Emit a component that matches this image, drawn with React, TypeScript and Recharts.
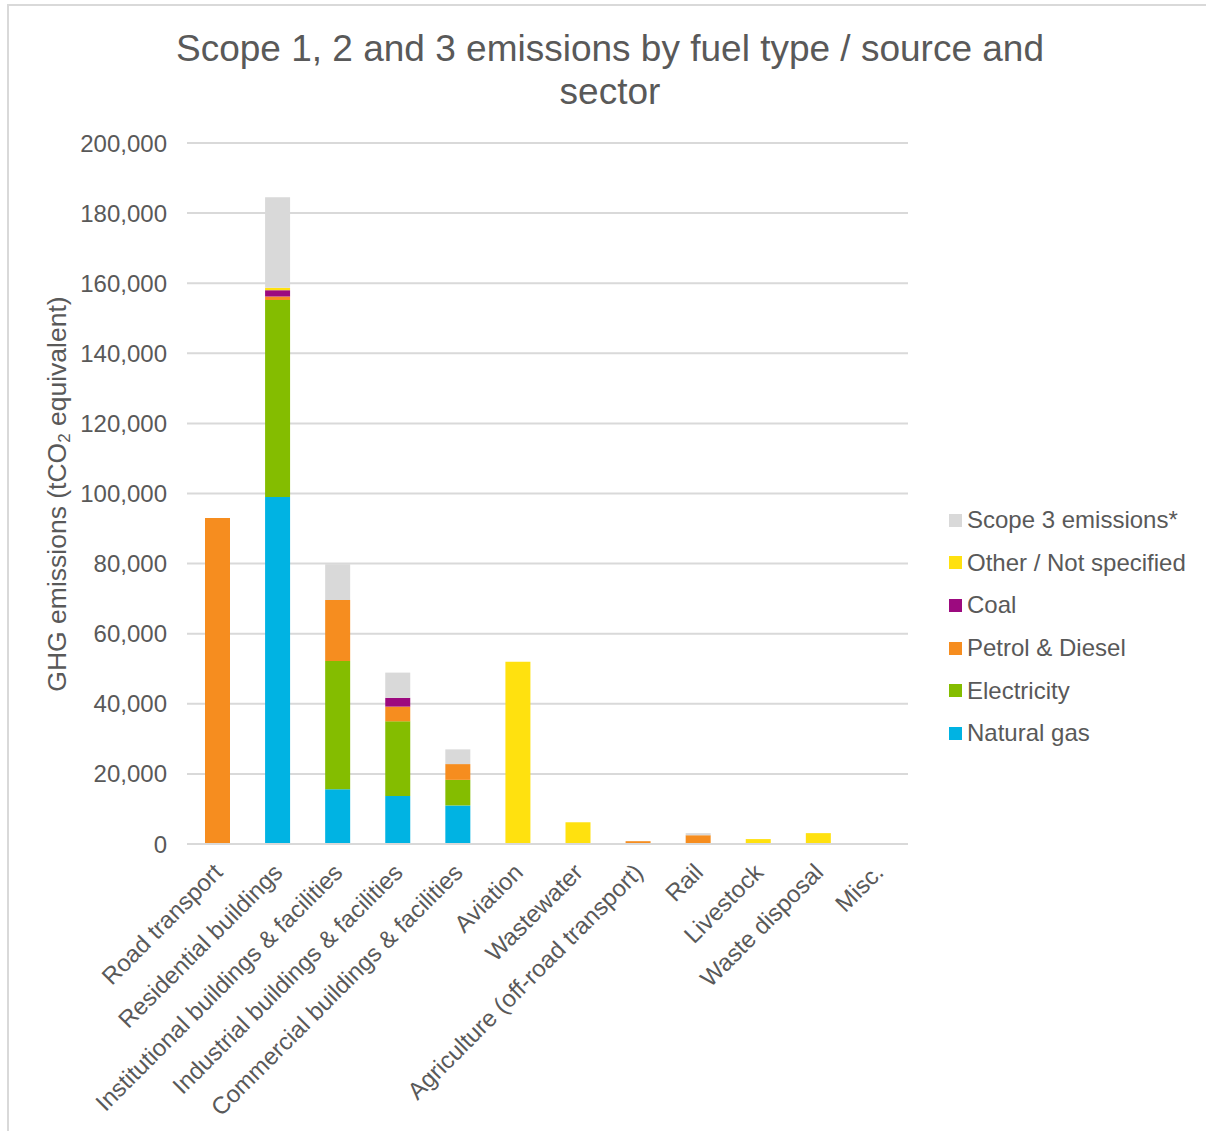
import { BarChart, Bar, XAxis, YAxis, CartesianGrid } from 'recharts'

const sectors = [
    'Road transport',
    'Residential buildings',
    'Institutional buildings & facilities',
    'Industrial buildings & facilities',
    'Commercial buildings & facilities',
    'Aviation',
    'Wastewater',
    'Agriculture (off-road transport)',
    'Rail',
    'Livestock',
    'Waste disposal',
    'Misc.',
]

const naturalGas = [0, 99000, 15600, 13700, 11000, 0, 0, 0, 0, 0, 0, 0]
const electricity = [0, 56200, 36600, 21300, 7300, 0, 0, 0, 0, 0, 0, 0]
const petrolDiesel = [93000, 1000, 17400, 4200, 4500, 0, 0, 800, 2500, 0, 0, 0]
const coal = [0, 1800, 0, 2500, 0, 0, 0, 0, 0, 0, 0, 0]
const otherFuel = [0, 700, 0, 0, 0, 52000, 6200, 0, 0, 1400, 3100, 0]
const scope3 = [0, 25800, 10200, 7200, 4200, 0, 0, 0, 600, 0, 0, 200]

const yTicks = [0, 20000, 40000, 60000, 80000, 100000, 120000, 140000, 160000, 180000, 200000]

const series = [
    { key: 'gas', name: 'Natural gas', color: '#00b3e3' },
    { key: 'elec', name: 'Electricity', color: '#84bd00' },
    { key: 'petrol', name: 'Petrol & Diesel', color: '#f68d1f' },
    { key: 'coal', name: 'Coal', color: '#9c0a7f' },
    { key: 'other', name: 'Other / Not specified', color: '#ffe10f' },
    { key: 'scope3', name: 'Scope 3 emissions*', color: '#d9d9d9' },
]

const data = sectors.map((s, i) => ({
    sector: s,
    gas: naturalGas[i],
    elec: electricity[i],
    petrol: petrolDiesel[i],
    coal: coal[i],
    other: otherFuel[i],
    scope3: scope3[i],
}))

const FONT = '"Liberation Sans", Arial, sans-serif'
const TEXT = '#595959'

function SectorTick(props: any) {
    const { x, y, payload } = props
    return (
        <text
            transform={`translate(${x - 5}, ${y + 10}) rotate(-45)`}
            textAnchor="end"
            fontSize={24}
            fill={TEXT}
            fontFamily={FONT}
            dy="0.7em"
        >
            {payload.value}
        </text>
    )
}

function App() {
    return (
        <div style={{ position: 'absolute', left: 0, top: 0, width: 1206, height: 1131, background: '#fff', fontFamily: FONT, overflow: 'hidden' }}>
            <div
                style={{
                    position: 'absolute',
                    left: 7,
                    top: 4,
                    width: 1230,
                    height: 1160,
                    borderLeft: '2px solid #d9d9d9',
                    borderTop: '2px solid #d9d9d9',
                }}
            />
            <div
                style={{
                    position: 'absolute',
                    left: 0,
                    width: 1220,
                    top: 27,
                    textAlign: 'center',
                    fontSize: 37,
                    lineHeight: '43px',
                    color: TEXT,
                }}
            >
                Scope 1, 2 and 3 emissions by fuel type / source and
                <br />
                sector
            </div>
            <BarChart
                width={1206}
                height={1131}
                data={data}
                margin={{ top: 143, right: 298, bottom: 0, left: 87 }}
                barSize={25}
                style={{ position: 'absolute', left: 0, top: 0 }}
            >
                <CartesianGrid vertical={false} stroke="#d9d9d9" strokeWidth={2} />
                <XAxis
                    dataKey="sector"
                    interval={0}
                    height={287}
                    tickLine={false}
                    axisLine={{ stroke: '#d9d9d9', strokeWidth: 2 }}
                    tick={<SectorTick />}
                />
                <YAxis
                    width={100}
                    domain={[0, 200000]}
                    ticks={yTicks}
                    tickFormatter={(v: number) => v.toLocaleString('en-US')}
                    axisLine={false}
                    tickLine={false}
                    tickSize={0}
                    tickMargin={20}
                    tick={{ fontSize: 24, fill: TEXT, fontFamily: FONT }}
                />
                {series.map((s) => (
                    <Bar
                        key={s.key}
                        dataKey={s.key}
                        name={s.name}
                        stackId="a"
                        fill={s.color}
                        isAnimationActive={false}
                    />
                ))}
                <text
                    transform="translate(66, 494) rotate(-90)"
                    textAnchor="middle"
                    fontSize={26.5}
                    fill={TEXT}
                    fontFamily={FONT}
                >
                    GHG emissions (tCO
                    <tspan fontSize={17} dy={4}>2</tspan>
                    <tspan dy={-4}> equivalent)</tspan>
                </text>
            </BarChart>
            <div style={{ position: 'absolute', left: 949, top: 499 }}>
                {[...series].reverse().map((s) => (
                    <div
                        key={s.key}
                        style={{ display: 'flex', alignItems: 'center', height: 42.6, fontSize: 24, color: TEXT, whiteSpace: 'nowrap' }}
                    >
                        <span style={{ width: 13, height: 13, background: s.color, marginRight: 5, flexShrink: 0 }} />
                        {s.name}
                    </div>
                ))}
            </div>
        </div>
    )
}

export default App
